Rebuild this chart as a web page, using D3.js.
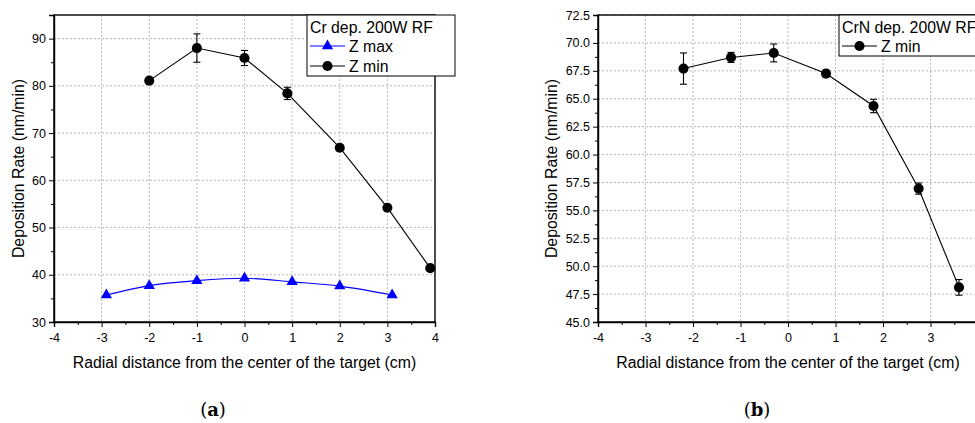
<!DOCTYPE html>
<html>
<head>
<meta charset="utf-8">
<script src="https://cdn.jsdelivr.net/npm/d3@7"></script>
<style>
  body { margin: 0; background: #fff; }
  svg { display: block; font-family: "Liberation Sans", Arial, sans-serif; }
  .grid line { stroke: #b8b8b8; stroke-dasharray: 2,2; stroke-width: 1; }
  .axis path, .axis line { stroke: #000; }
  .axis text { font-size: 12.5px; fill: #000; }
</style>
</head>
<body>
<svg id="chart" width="975" height="423"></svg>
<script>
// panel (a): Cr deposition
var crX_max   = [-2.9, -2, -1, 0, 1, 2, 3.1];
var crZmax    = [35.7, 37.7, 38.75, 39.25, 38.5, 37.6, 35.7];
var crX_min   = [-2, -1, 0, 0.9, 2, 3, 3.9];
var crZmin    = [81.1, 88.0, 85.9, 78.4, 66.9, 54.2, 41.4];
var crZminErr = [0.4, 3.0, 1.6, 1.3, 0.4, 0.4, 0.4];

// panel (b): CrN deposition
var crnX      = [-2.2, -1.2, -0.3, 0.8, 1.8, 2.75, 3.6];
var crnZmin   = [67.7, 68.7, 69.1, 67.25, 64.35, 56.95, 48.1];
var crnErr    = [1.4, 0.45, 0.8, 0.3, 0.6, 0.5, 0.7];

var crXTicks  = [-4, -3, -2, -1, 0, 1, 2, 3, 4];
var crnXTicks = [-4, -3, -2, -1, 0, 1, 2, 3];   // 4 falls off the page
var crYTicks  = [30, 40, 50, 60, 70, 80, 90];
var crnYTicks = [45, 47.5, 50, 52.5, 55, 57.5, 60, 62.5, 65, 67.5, 70, 72.5];

var svg = d3.select("#chart");
svg.append("rect").attr("width", 975).attr("height", 423).attr("fill", "#fff");

// plain hyphen for negatives, like the original
function hyph(f) { return d => f(d).replace("\u2212", "-"); }

function drawPanel(o) {
  var g = svg.append("g").attr("transform", "translate(" + o.left + "," + o.top + ")");
  var w = o.width, h = o.height;
  var x = d3.scaleLinear().domain([-4, 4]).range([0, w]);
  var y = d3.scaleLinear().domain(o.yDomain).range([h, 0]);

  // dotted grid
  var grid = g.append("g").attr("class", "grid");
  grid.selectAll(".gx").data([-3, -2, -1, 0, 1, 2, 3]).enter().append("line")
    .attr("x1", d => x(d)).attr("x2", d => x(d)).attr("y1", 0).attr("y2", h);
  grid.selectAll(".gy").data(o.yTicks.slice(1)).enter().append("line")
    .attr("y1", d => y(d)).attr("y2", d => y(d)).attr("x1", 0).attr("x2", w);

  // frame
  g.append("rect").attr("width", w).attr("height", h)
    .attr("fill", "none").attr("stroke", "#000").attr("stroke-width", 1.4);

  // axes
  var xMinor = d3.range(-3.5, 4, 1);
  g.append("g").attr("class", "axis").attr("transform", "translate(0," + h + ")")
    .call(d3.axisBottom(x).tickValues(o.xTicks).tickFormat(hyph(d3.format("d"))).tickSize(5).tickPadding(6))
    .call(a => a.select(".domain").attr("stroke-width", 1.4));
  g.append("g").attr("class", "axis").attr("transform", "translate(0," + h + ")")
    .call(d3.axisBottom(x).tickValues(xMinor).tickFormat("").tickSize(3))
    .call(a => a.select(".domain").remove());

  g.append("g").attr("class", "axis")
    .call(d3.axisLeft(y).tickValues(o.yTicks).tickFormat(o.yFormat).tickSize(5).tickPadding(3))
    .call(a => a.select(".domain").attr("stroke-width", 1.4));
  g.append("g").attr("class", "axis")
    .call(d3.axisLeft(y).tickValues(o.yMinor).tickFormat("").tickSize(3))
    .call(a => a.select(".domain").remove());

  // axis titles
  g.append("text").attr("x", w / 2).attr("y", h + 46)
    .attr("text-anchor", "middle").attr("font-size", "15.8px")
    .text("Radial distance from the center of the target (cm)");
  g.append("text").attr("transform", "translate(" + o.yTitleX + "," + (h / 2) + ") rotate(-90)")
    .attr("text-anchor", "middle").attr("font-size", "15.8px")
    .text("Deposition Rate (nm/min)");

  // series
  o.series.forEach(function(s) {
    var pts = s.xs.map((d, i) => [d, s.ys[i], s.err ? s.err[i] : 0]);
    g.append("path").datum(pts)
      .attr("fill", "none").attr("stroke", s.color).attr("stroke-width", 1.1)
      .attr("d", d3.line().x(d => x(d[0])).y(d => y(d[1])).curve(s.curve || d3.curveLinear));
    if (s.err) {
      var eb = g.append("g").selectAll("g").data(pts).enter().append("g")
        .attr("stroke", s.color).attr("stroke-width", 1.1);
      eb.append("line").attr("x1", d => x(d[0])).attr("x2", d => x(d[0]))
        .attr("y1", d => y(d[1] - d[2])).attr("y2", d => y(d[1] + d[2]));
      eb.append("line").attr("x1", d => x(d[0]) - 3.5).attr("x2", d => x(d[0]) + 3.5)
        .attr("y1", d => y(d[1] + d[2])).attr("y2", d => y(d[1] + d[2]));
      eb.append("line").attr("x1", d => x(d[0]) - 3.5).attr("x2", d => x(d[0]) + 3.5)
        .attr("y1", d => y(d[1] - d[2])).attr("y2", d => y(d[1] - d[2]));
    }
    g.append("g").selectAll("path").data(pts).enter().append("path")
      .attr("transform", d => "translate(" + x(d[0]) + "," + y(d[1]) + ")")
      .attr("d", d3.symbol().type(s.symbol).size(s.symSize))
      .attr("fill", s.color);
  });

  // legend
  var lg = g.append("g").attr("transform", "translate(" + o.legendX + ",0)");
  lg.append("rect").attr("width", w - o.legendX + 20).attr("height", 22 + o.series.length * 20 - 1)
    .attr("fill", "#fff").attr("stroke", "#000").attr("stroke-width", 1);
  lg.append("text").attr("x", 3).attr("y", 17.5).attr("font-size", "15.8px").text(o.legendTitle);
  o.series.forEach(function(s, i) {
    var ry = 31 + i * 20;
    lg.append("line").attr("x1", 3).attr("x2", 38).attr("y1", ry).attr("y2", ry)
      .attr("stroke", s.color).attr("stroke-width", 1.1);
    lg.append("path").attr("transform", "translate(20.5," + ry + ")")
      .attr("d", d3.symbol().type(s.symbol).size(s.symSize)).attr("fill", s.color);
    lg.append("text").attr("x", 42).attr("y", ry + 5.5).attr("font-size", "15.8px").text(s.name);
  });

  // caption
  svg.append("text").attr("x", o.captionX).attr("y", 416)
    .attr("text-anchor", "middle").attr("font-family", "'DejaVu Serif', 'Liberation Serif', serif")
    .attr("font-size", "18px")
    .call(t => {
      t.append("tspan").text("(");
      t.append("tspan").attr("font-weight", "bold").text(o.caption);
      t.append("tspan").text(")");
    });
}

drawPanel({
  left: 54, top: 15, width: 381, height: 307,
  xTicks: crXTicks,
  yDomain: [30, 95], yTicks: crYTicks, yMinor: d3.range(35, 95, 10),
  yFormat: d3.format("d"), yTitleX: -30,
  legendX: 253, legendTitle: "Cr dep. 200W RF",
  captionX: 213, caption: "a",
  series: [
    { name: "Z max", xs: crX_max, ys: crZmax, color: "#0000ff", symbol: d3.symbolTriangle, symSize: 55, curve: d3.curveMonotoneX },
    { name: "Z min", xs: crX_min, ys: crZmin, err: crZminErr, color: "#000", symbol: d3.symbolCircle, symSize: 80 }
  ]
});

drawPanel({
  left: 598, top: 15, width: 380, height: 307,
  xTicks: crnXTicks,
  yDomain: [45, 72.5], yTicks: crnYTicks, yMinor: d3.range(46.25, 72.5, 2.5),
  yFormat: d3.format(".1f"), yTitleX: -41,
  legendX: 241, legendTitle: "CrN dep. 200W RF",
  captionX: 757, caption: "b",
  series: [
    { name: "Z min", xs: crnX, ys: crnZmin, err: crnErr, color: "#000", symbol: d3.symbolCircle, symSize: 80 }
  ]
});
</script>
</body>
</html>
